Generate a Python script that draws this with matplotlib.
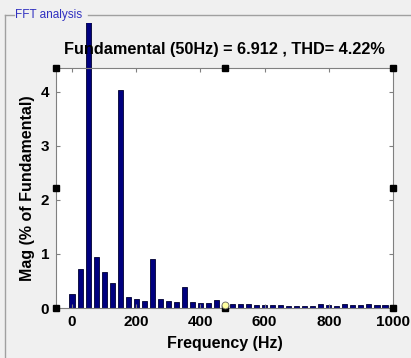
import numpy as np
import matplotlib
matplotlib.use("Agg")
from matplotlib import pyplot as plt
from matplotlib.transforms import Bbox, TransformedBbox

# harmonic spectrum, 25 Hz steps, in % of the fundamental
freqs = np.arange(0, 1001, 25)
mags = [0.25, 0.73, 100.0, 0.94, 0.66, 0.46, 4.03, 0.21, 0.17, 0.135,
        0.90, 0.17, 0.135, 0.12, 0.38, 0.12, 0.10, 0.10, 0.15, 0.05,
        0.08, 0.08, 0.08, 0.05, 0.06, 0.06, 0.06, 0.04, 0.03, 0.04,
        0.04, 0.07, 0.05, 0.04, 0.07, 0.05, 0.05, 0.07, 0.05, 0.05, 0.06]
xticks = [0, 200, 400, 600, 800, 1000]
yticks = [0, 1, 2, 3, 4]
title = "Fundamental (50Hz) = 6.912 , THD= 4.22%"

W, H = 411, 358
fig = plt.figure(figsize=(W / 100, H / 100), dpi=100, facecolor="#f0f0f0")
plt.rcParams["font.family"] = ["Liberation Sans", "DejaVu Sans"]

# panel frame with its title
fig.add_artist(plt.Line2D([5 / W, 14 / W], [1 - 15 / H] * 2, color="#a0a0a0", lw=1))
fig.add_artist(plt.Line2D([88 / W, 1.0], [1 - 15 / H] * 2, color="#a0a0a0", lw=1))
fig.add_artist(plt.Line2D([5 / W] * 2, [0, 1 - 15 / H], color="#a0a0a0", lw=1))
fig.text(15 / W, 1 - 15 / H, "FFT analysis", color="#3030c0", fontsize=8.5, va="center")

ax = fig.add_axes([56 / W, 1 - 308 / H, 337 / W, 240 / H])
ax.set_facecolor("white")
bars = ax.bar(freqs, mags, width=16, color="#00007f", edgecolor="#000030", lw=0.6)

# fundamental bar runs past the axes, cut at the panel
clip = TransformedBbox(Bbox([[0, 0], [1, 1 - 23 / H]]), fig.transFigure)
bars[2].set_clip_box(clip)

ax.set_xlim(-50, 1000)
ax.set_ylim(0, 4.44)
ax.set_xticks(xticks)
ax.set_yticks(yticks)
ax.tick_params(direction="in", top=True, right=True, length=3, color="#808080",
               labelsize=11, pad=5)
for lab in ax.get_xticklabels() + ax.get_yticklabels():
    lab.set_fontweight("bold")
for s in ax.spines.values():
    s.set_color("#808080")

ax.set_xlabel("Frequency (Hz)", fontsize=11.5, fontweight="bold", labelpad=5)
ax.set_ylabel("Mag (% of Fundamental)", fontsize=11.5, fontweight="bold", labelpad=4)
ax.set_title(title, fontsize=11.7, fontweight="bold", pad=10)

# selection handles on the axes box
hx = [0, 0.5, 1, 0, 1, 0, 0.5, 1]
hy = [1, 1, 1, 0.5, 0.5, 0, 0, 0]
ax.plot(hx, hy, "s", ms=4, color="black", transform=ax.transAxes, clip_on=False, zorder=5)
ax.plot([0.5], [0.012], "o", ms=5, mfc="#ffffa0", mec="#606060", mew=0.6,
        transform=ax.transAxes, clip_on=False, zorder=6)

fig.savefig("out.png", dpi=100, facecolor=fig.get_facecolor())
